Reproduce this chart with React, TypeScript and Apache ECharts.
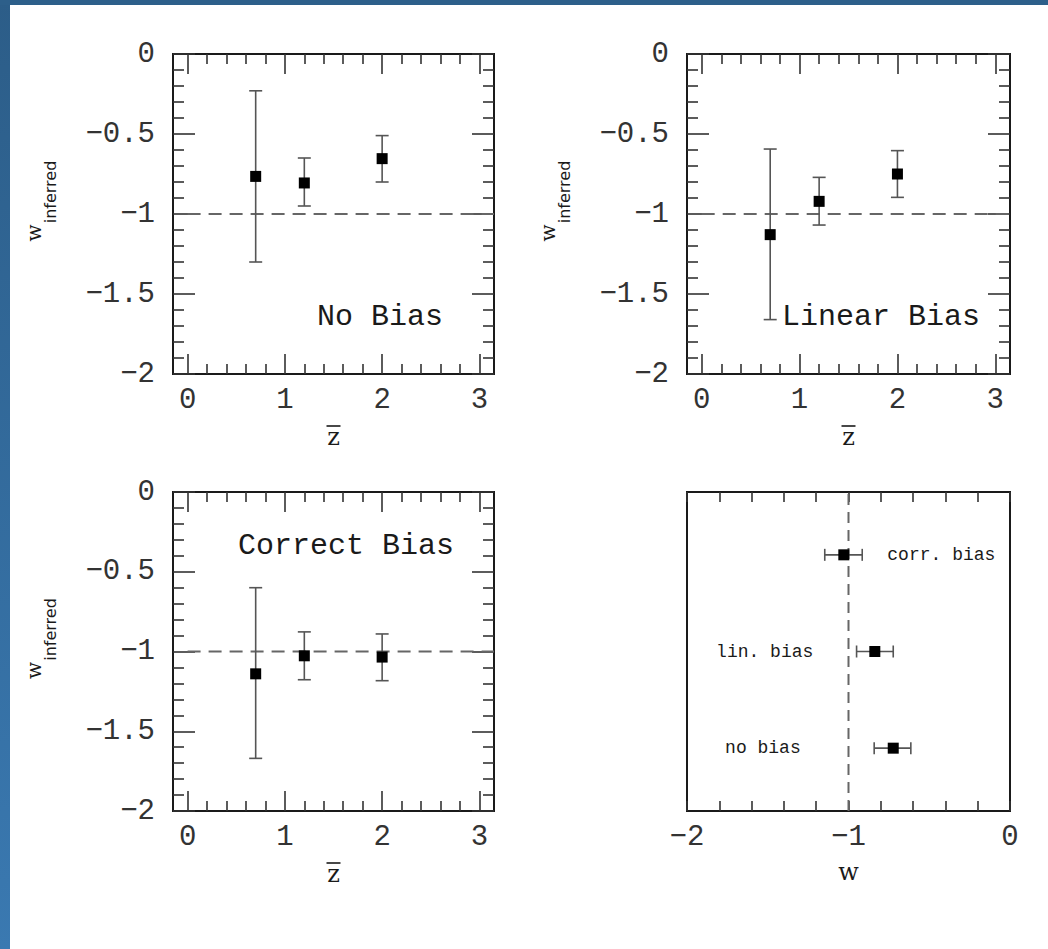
import React, { useEffect, useRef } from "react";
import * as echarts from "echarts";

// ---------- data ----------
const zCenters = [0.7, 1.2, 2.0];

const noBiasW = [-0.765, -0.806, -0.654];
const noBiasHi = [-0.23, -0.65, -0.51];
const noBiasLo = [-1.3, -0.95, -0.8];

const linBiasW = [-1.129, -0.921, -0.75];
const linBiasHi = [-0.594, -0.771, -0.604];
const linBiasLo = [-1.66, -1.069, -0.896];

const corrBiasW = [-1.14, -1.027, -1.035];
const corrBiasHi = [-0.6, -0.877, -0.89];
const corrBiasLo = [-1.67, -1.177, -1.183];

const panelTitles = ["No Bias", "Linear Bias", "Correct Bias"];

const summaryLabels = ["no bias", "lin. bias", "corr. bias"];
const summaryRows = [1, 2, 3];
const summaryW = [-0.723, -0.837, -1.029];
const summaryLo = [-0.841, -0.95, -1.147];
const summaryHi = [-0.614, -0.723, -0.915];

const referenceW = -1;
const zTickLabels = ["0", "1", "2", "3"];
const wTickLabels = ["0", "−0.5", "−1", "−1.5", "−2"];
const summaryTickLabels = ["−2", "−1", "0"];

// ---------- layout ----------
const X_MIN = -0.15;
const X_MAX = 3.15;
const panels = [
  { left: 173, top: 54, width: 321, height: 320, w: noBiasW, lo: noBiasLo, hi: noBiasHi, title: panelTitles[0], tx: 317, ty: 317 },
  { left: 687, top: 54, width: 323, height: 320, w: linBiasW, lo: linBiasLo, hi: linBiasHi, title: panelTitles[1], tx: 782, ty: 317 },
  { left: 173, top: 492, width: 321, height: 319, w: corrBiasW, lo: corrBiasLo, hi: corrBiasHi, title: panelTitles[2], tx: 238, ty: 546 },
];
const P4 = { left: 687, top: 492, width: 323, height: 319 };

const MONO = '"Liberation Mono", "DejaVu Sans Mono", monospace';
const SERIF = '"DejaVu Serif", "Liberation Serif", serif';
const SANS = '"DejaVu Sans", sans-serif';
const INK = "#1a1a1a";
const BAR = "#555";

function fmt(list: string[], values: number[]) {
  return (v: number) => {
    const i = values.findIndex((t) => Math.abs(t - v) < 1e-6);
    return i >= 0 ? list[i] : "";
  };
}

function vErr(params: any, api: any) {
  const x = api.value(0);
  const a = api.coord([x, api.value(1)]);
  const b = api.coord([x, api.value(2)]);
  const c = 6.5;
  const style = { stroke: BAR, lineWidth: 1.6 };
  return {
    type: "group",
    children: [
      { type: "line", shape: { x1: a[0], y1: a[1], x2: b[0], y2: b[1] }, style },
      { type: "line", shape: { x1: a[0] - c, y1: a[1], x2: a[0] + c, y2: a[1] }, style },
      { type: "line", shape: { x1: b[0] - c, y1: b[1], x2: b[0] + c, y2: b[1] }, style },
    ],
  };
}

function hErr(params: any, api: any) {
  const y = api.value(0);
  const a = api.coord([api.value(1), y]);
  const b = api.coord([api.value(2), y]);
  const c = 6;
  const style = { stroke: BAR, lineWidth: 1.6 };
  return {
    type: "group",
    children: [
      { type: "line", shape: { x1: a[0], y1: a[1], x2: b[0], y2: b[1] }, style },
      { type: "line", shape: { x1: a[0], y1: a[1] - c, x2: a[0], y2: a[1] + c }, style },
      { type: "line", shape: { x1: b[0], y1: b[1] - c, x2: b[0], y2: b[1] + c }, style },
    ],
  };
}

function buildOption() {
  const grid: any[] = [];
  const xAxis: any[] = [];
  const yAxis: any[] = [];
  const series: any[] = [];
  const graphic: any[] = [];

  const tickStyle = { color: "#333", width: 1.6 };
  const TICK_FS = 29;

  panels.forEach((p) => {
    const unit = p.width / (X_MAX - X_MIN);
    const gA = grid.length;
    grid.push({ left: p.left, top: p.top, width: p.width, height: p.height, show: true, borderColor: INK, borderWidth: 2, backgroundColor: "transparent" });
    const gB = grid.length;
    grid.push({ left: p.left + (0 - X_MIN) * unit, top: p.top, width: 3 * unit, height: p.height });

    const xA = xAxis.length;
    xAxis.push({ gridIndex: gA, type: "value", min: X_MIN, max: X_MAX, show: false });
    ["bottom", "top"].forEach((pos) => {
      xAxis.push({
        gridIndex: gB, type: "value", position: pos, min: 0, max: 3, interval: 1,
        axisLine: { show: false, onZero: false },
        axisTick: { show: true, inside: true, length: 20, lineStyle: tickStyle },
        minorTick: { show: true, splitNumber: 5, length: 10, lineStyle: tickStyle },
        splitLine: { show: false },
        axisLabel: {
          show: pos === "bottom", margin: 12, color: "#333", fontSize: TICK_FS, fontFamily: MONO,
          showMinLabel: true, showMaxLabel: true,
          formatter: fmt(zTickLabels, [0, 1, 2, 3]),
        },
      });
    });

    const yA = yAxis.length;
    ["left", "right"].forEach((pos) => {
      yAxis.push({
        gridIndex: gA, type: "value", position: pos, min: -2, max: 0, interval: 0.5,
        axisLine: { show: false, onZero: false },
        axisTick: { show: true, inside: true, length: 22, lineStyle: tickStyle },
        minorTick: { show: true, splitNumber: 5, length: 11, lineStyle: tickStyle },
        splitLine: { show: false },
        axisLabel: {
          show: pos === "left", margin: 18, color: "#333", fontSize: TICK_FS, fontFamily: MONO,
          showMinLabel: true, showMaxLabel: true,
          formatter: fmt(wTickLabels, [0, -0.5, -1, -1.5, -2]),
        },
      });
    });
    yAxis.push({ gridIndex: gB, type: "value", min: -2, max: 0, show: false });

    series.push({
      type: "line", xAxisIndex: xA, yAxisIndex: yA, silent: true, symbol: "none", z: 2,
      data: [[0, referenceW], [X_MAX, referenceW]],
      lineStyle: { color: "#666", width: 2, type: [13, 8] },
    });
    series.push({
      type: "custom", xAxisIndex: xA, yAxisIndex: yA, renderItem: vErr, z: 3, silent: true,
      encode: { x: 0, y: [1, 2] },
      data: zCenters.map((z, k) => [z, p.lo[k], p.hi[k]]),
    });
    series.push({
      type: "scatter", xAxisIndex: xA, yAxisIndex: yA, symbol: "rect", symbolSize: 11, z: 4, silent: true,
      itemStyle: { color: "#000", opacity: 1 },
      data: zCenters.map((z, k) => [z, p.w[k]]),
    });

    // panel title
    graphic.push({
      type: "text", x: p.tx, y: p.ty,
      style: { text: p.title, font: `30px ${MONO}`, fill: INK, textAlign: "left", textVerticalAlign: "middle", align: "left", verticalAlign: "middle" },
    });
    // x axis title: z-bar
    const cx = p.left + p.width / 2;
    const by = p.top + p.height;
    graphic.push({
      type: "text", x: cx, y: by + 63,
      style: { text: "z", font: `24px ${SERIF}`, fill: INK, textAlign: "center", textVerticalAlign: "middle", align: "center", verticalAlign: "middle" },
    });
    graphic.push({ type: "line", shape: { x1: cx - 7, y1: by + 52, x2: cx + 7, y2: by + 52 }, style: { stroke: INK, lineWidth: 1.6 } });
    // y axis title: w_inferred
    const cy = p.top + p.height / 2;
    const lx = p.left - 139;
    graphic.push({
      type: "text", x: lx, y: cy + 19, rotation: Math.PI / 2,
      style: { text: "w", font: `20px ${SERIF}`, fill: INK, textAlign: "center", textVerticalAlign: "middle", align: "center", verticalAlign: "middle" },
    });
    graphic.push({
      type: "text", x: lx + 16, y: cy - 22, rotation: Math.PI / 2,
      style: { text: "inferred", font: `16px ${SANS}`, fill: INK, textAlign: "center", textVerticalAlign: "middle", align: "center", verticalAlign: "middle" },
    });
  });

  // ---- panel 4: summary ----
  const g4 = grid.length;
  grid.push({ left: P4.left, top: P4.top, width: P4.width, height: P4.height, show: true, borderColor: INK, borderWidth: 2, backgroundColor: "transparent" });
  const x4 = xAxis.length;
  ["bottom", "top"].forEach((pos) => {
    xAxis.push({
      gridIndex: g4, type: "value", position: pos, min: -2, max: 0, interval: 1,
      axisLine: { show: false, onZero: false },
      axisTick: { show: true, inside: true, length: 10, lineStyle: tickStyle },
      minorTick: { show: true, splitNumber: 5, length: 10, lineStyle: tickStyle },
      splitLine: { show: false },
      axisLabel: {
        show: pos === "bottom", margin: 12, color: "#333", fontSize: TICK_FS, fontFamily: MONO,
        showMinLabel: true, showMaxLabel: true,
        formatter: fmt(summaryTickLabels, [-2, -1, 0]),
      },
    });
  });
  const y4 = yAxis.length;
  yAxis.push({ gridIndex: g4, type: "value", min: 0.35, max: 3.65, show: false, axisLine: { onZero: false } });

  series.push({
    type: "line", xAxisIndex: x4, yAxisIndex: y4, silent: true, symbol: "none", z: 2,
    data: [[referenceW, 0.35], [referenceW, 3.65]],
    lineStyle: { color: "#666", width: 2, type: [11, 7] },
  });
  series.push({
    type: "custom", xAxisIndex: x4, yAxisIndex: y4, renderItem: hErr, z: 3, silent: true,
    encode: { x: [1, 2], y: 0 },
    data: summaryRows.map((r, k) => [r, summaryLo[k], summaryHi[k]]),
  });
  series.push({
    type: "scatter", xAxisIndex: x4, yAxisIndex: y4, symbol: "rect", symbolSize: 11, z: 4, silent: true,
    itemStyle: { color: "#000", opacity: 1 },
    label: {
      show: true,
      formatter: (d: any) => summaryLabels[d.dataIndex],
      fontFamily: MONO, fontSize: 18, color: INK,
    },
    data: summaryRows.map((r, k) => ({
      value: [summaryW[k], r],
      label: k === 2
        ? { position: "right", distance: 38 }
        : { position: "left", distance: k === 1 ? 56 : 87 },
    })),
  });

  graphic.push({
    type: "text", x: P4.left + P4.width / 2, y: P4.top + P4.height + 61,
    style: { text: "w", font: `24px ${SERIF}`, fill: INK, textAlign: "center", textVerticalAlign: "middle", align: "center", verticalAlign: "middle" },
  });

  // blue page frame
  graphic.unshift(
    { type: "rect", shape: { x: 0, y: 0, width: 10, height: 949 }, style: { fill: new echarts.graphic.LinearGradient(0, 0, 0, 1, [{ offset: 0, color: "#2c5d88" }, { offset: 1, color: "#3a79b1" }]) }, z: 0 },
    { type: "rect", shape: { x: 0, y: 0, width: 1048, height: 5 }, style: { fill: "#2d5f8a" }, z: 0 }
  );

  return {
    animation: false,
    backgroundColor: "#fff",
    grid, xAxis, yAxis, series, graphic,
  };
}

export default function App() {
  const ref = useRef<HTMLDivElement>(null);
  useEffect(() => {
    if (!ref.current) return;
    const chart = echarts.init(ref.current, undefined, { renderer: "svg" });
    chart.setOption(buildOption() as any);
    return () => chart.dispose();
  }, []);
  return (
    <div
      ref={ref}
      style={{ position: "fixed", left: 0, top: 0, width: 1048, height: 949, background: "#fff" }}
    />
  );
}
